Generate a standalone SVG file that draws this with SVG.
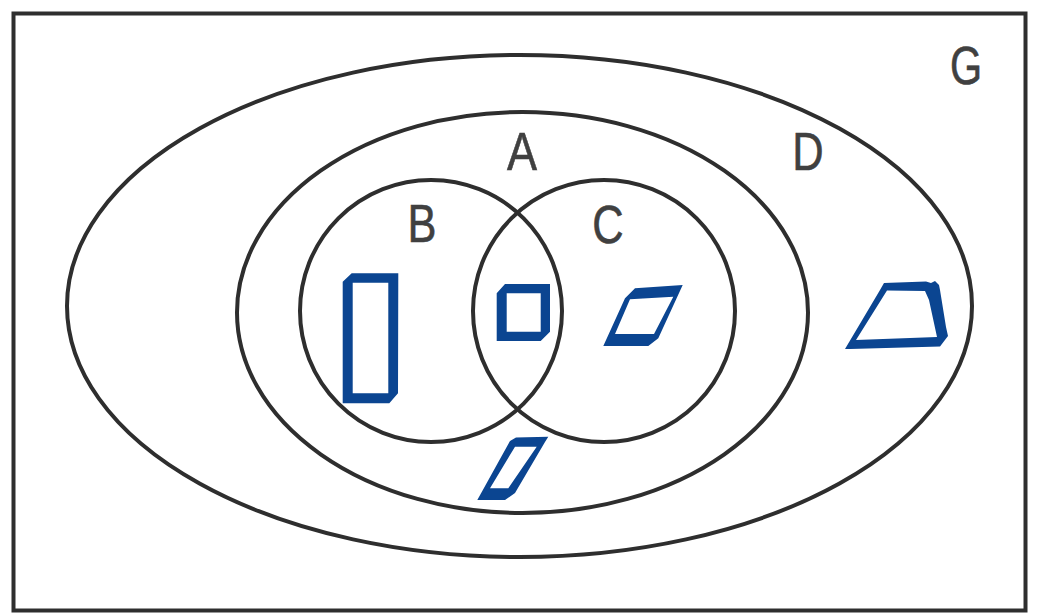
<svg xmlns="http://www.w3.org/2000/svg" width="1046" height="616" viewBox="0 0 1046 616">
<style>
.ln{fill:none;stroke:#2e2e2e;stroke-width:4}
.lbl{font-family:"Liberation Sans",Arial,sans-serif;font-size:53px;fill:#404040;stroke:#404040;stroke-width:0.6;text-anchor:middle}
.sh{fill:#0B4591;fill-rule:evenodd}
</style>
<rect width="1046" height="616" fill="#ffffff"/>
<g id="G">
<rect class="ln" x="13.5" y="13.5" width="1012" height="597" stroke="#3a3a3a"/>
<text class="lbl" transform="translate(966,84) scale(0.78,1)">G</text>
</g>
<g id="D">
<ellipse class="ln" cx="519.5" cy="306" rx="452.5" ry="251"/>
<text class="lbl" transform="translate(808,170) scale(0.82,1)">D</text>
</g>
<g id="A">
<ellipse class="ln" cx="522.5" cy="312.5" rx="285.5" ry="200.5"/>
<text class="lbl" transform="translate(522,170) scale(0.85,1)">A</text>
</g>
<g id="B">
<circle class="ln" cx="431" cy="311" r="131"/>
<text class="lbl" transform="translate(422,242) scale(0.82,1)">B</text>
</g>
<g id="C">
<circle class="ln" cx="604" cy="311" r="131"/>
<text class="lbl" transform="translate(608,243) scale(0.82,1)">C</text>
</g>
<g id="shapes">
<path id="rect1" class="sh" d="M342.7,281.7 L351.7,273.3 L398.3,273.3 L398,393.3 L389.3,403.3 L342.7,403.3 Z M352.7,282.7 L352.7,393.3 L388.3,393.3 L388.3,282.7 Z"/>
<path id="square1" class="sh" d="M496.7,293.3 L505,284 L550,284 L550,331.7 L540.7,341 L496.7,341 Z M506.7,293.3 L506.7,331.7 L540.7,331.7 L540.7,293.3 Z"/>
<path id="para1" class="sh" d="M603.3,346 L625,298.3 L635,288.3 L682.7,285 L658.3,338.3 L648.3,346 Z M630,299.3 L615,334 L654,334 L673.3,296.7 Z"/>
<path id="trap1" class="sh" d="M845,349 L880,290 L884,283 L926,281.5 L931,283 L935,281 L939,285 L940,290 L946,327 L948,336 L940,346.5 L850,349 Z M887,290.5 L856,340 L937,337 L929,300 L925,291 Z"/>
<path id="para2" class="sh" d="M477.3,500 L510,441 L516,437.5 L548.3,436.7 L545,442 L515,493 L505,500 Z M515,446.7 L490,488.3 L508.3,488.3 L536.7,446.7 Z"/>
</g>
</svg>
